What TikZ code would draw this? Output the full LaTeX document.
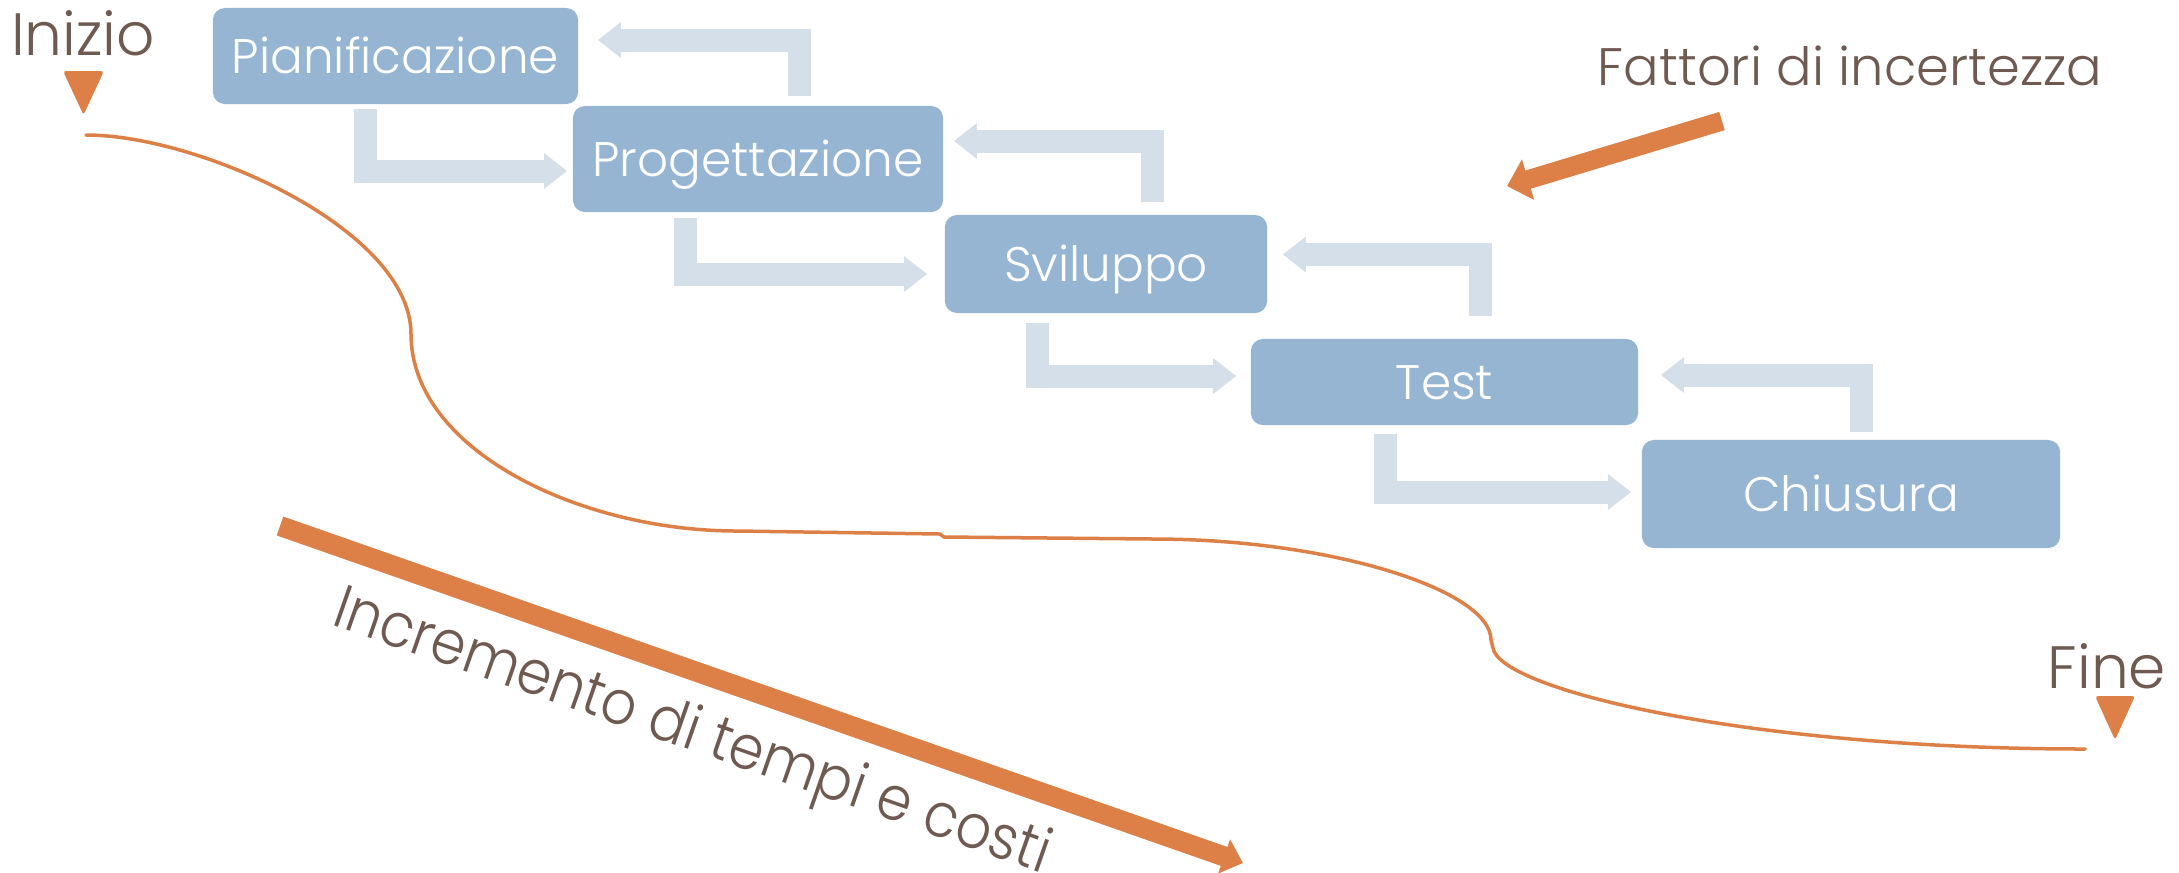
\documentclass[tikz,border=0pt]{standalone}
\usepackage{fontspec}
\IfFontExistsTF{Poppins Light}{\setmainfont{Poppins Light}}{\setmainfont{Poppins}}
\usetikzlibrary{arrows.meta,calc}
\definecolor{boxblue}{RGB}{150,181,211}
\definecolor{arrlight}{RGB}{213,223,234}
\definecolor{orng}{RGB}{221,128,71}
\definecolor{txtbrown}{RGB}{110,90,80}
\tikzset{
  phase/.style={fill=boxblue, rounded corners=1.2mm, text=white, inner sep=0pt,
    font=\fontsize{13.8}{16}\selectfont, text height=9.7pt, text depth=0pt},
  flow/.style={arrlight, line width=2.3mm, line join=miter,
    -{Triangle[width=3.4mm,length=2.3mm]}},
  orarrow/.style={orng, line width=1.9mm, -{Triangle[width=4.1mm,length=2.2mm]}},
  lbl/.style={text=txtbrown, inner sep=0pt, anchor=base},
  curveline/.style={orng, line width=0.35mm, line cap=round, line join=round},
}
\begin{document}
\begin{tikzpicture}[x=0.01cm, y=-0.01cm]
\useasboundingbox (0,0) rectangle (2179,872);

% phase boxes
\node[phase, minimum width=36.5mm, minimum height=9.6mm] (b1) at (395.5,56) {Pianificazione};
\node[phase, minimum width=37mm, minimum height=10.6mm] (b2) at (758,159) {Progettazione};
\node[phase, minimum width=32.2mm, minimum height=9.8mm] (b3) at (1106,264) {Sviluppo};
\node[phase, minimum width=38.7mm, minimum height=8.6mm] (b4) at (1444.5,382) {Test};
\node[phase, minimum width=41.8mm, minimum height=10.8mm] (b5) at (1851,494) {Chiusura};

% forward arrows
\draw[flow] ($(b1.south west)+(153.5,4)$) |- ($(b2.west)+(-5,12)$);
\draw[flow] ($(b2.south west)+(113.5,5)$) |- ($(b3.west)+(-17,10)$);
\draw[flow] ($(b3.south west)+(93,9)$) |- ($(b4.west)+(-14,-6)$);
\draw[flow] ($(b4.south west)+(135,8)$) |- ($(b5.west)+(-10,-2)$);

% feedback arrows
\draw[flow] ($(b2.north west)+(227,-9)$) |- ($(b1.east)+(19,-16)$);
\draw[flow] ($(b3.north west)+(208,-12)$) |- ($(b2.east)+(10,-18)$);
\draw[flow] ($(b4.north west)+(230.5,-22)$) |- ($(b3.east)+(15,-9.5)$);
\draw[flow] ($(b5.north west)+(220.5,-7)$) |- ($(b4.east)+(22,-7)$);

% labels
\node[lbl, font=\fontsize{17}{20}\selectfont] (inizio) at (83,55) {Inizio};
\node[lbl, font=\fontsize{17}{20}\selectfont] (fine) at (2107,688) {Fine};
\node[lbl, font=\fontsize{15}{18}\selectfont] (fattori) at (1850,85) {Fattori di incertezza};
\node[lbl, font=\fontsize{17.5}{20}\selectfont, rotate=-19.3, anchor=base west] (incr) at (330,624) {\scalebox{0.9}[1]{Incremento di tempi e costi}};

% start / end markers
\fill[orng, rounded corners=0.3mm] (63,71) -- (104,71) -- (83.5,115) -- cycle;
\fill[orng, rounded corners=0.3mm] (2095,696) -- (2135,696) -- (2115,740) -- cycle;

% uncertainty arrow and cost arrow
\coordinate (fa1) at (1722,121);
\coordinate (fa2) at (1507,186);
\draw[orarrow] (fa1) -- (fa2);
\coordinate (ca1) at (280,526);
\coordinate (ca2) at (1243,863);
\draw[orng, line width=2mm, -{Triangle[width=3.5mm,length=2mm]}] (ca1) -- (ca2);

% path curve
\draw[curveline] (86,135) .. controls (200,135) and (411,230) .. (411,334)
  .. controls (411,450) and (580,531) .. (737,531) -- (940,534) -- (944,537) -- (1153,539)
  .. controls (1330,539) and (1491,590) .. (1491,640) -- (1493,648)
  .. controls (1500,690) and (1750,749) .. (2085,749);
\end{tikzpicture}
\end{document}
